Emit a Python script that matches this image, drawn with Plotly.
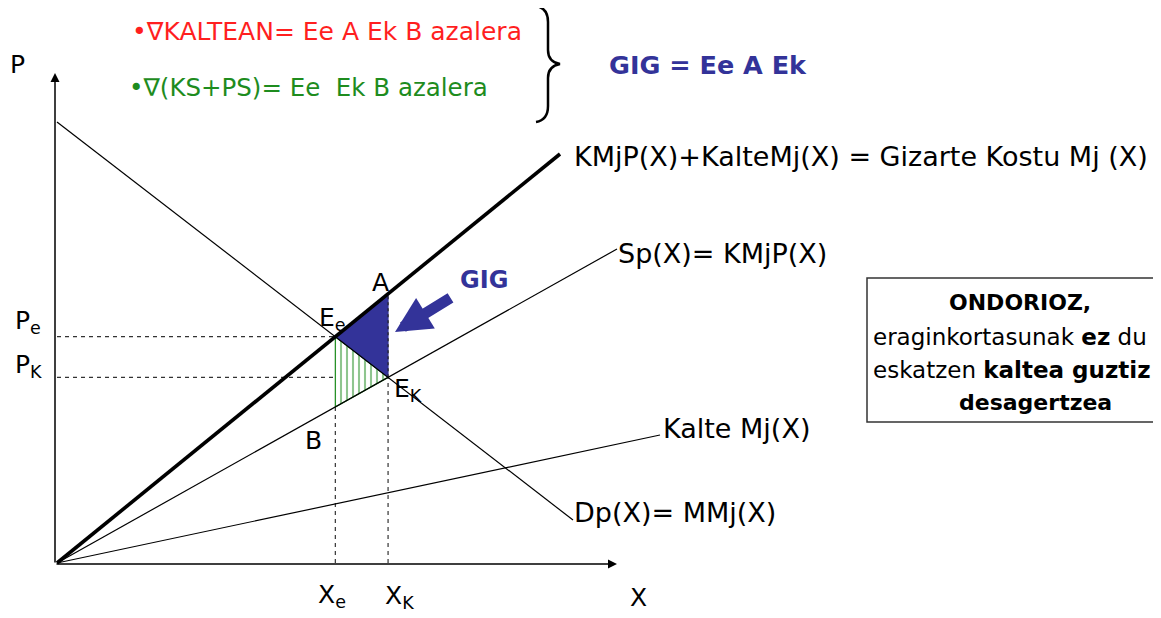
import numpy as np
import plotly.graph_objects as go

# ---------------- data (economic units) ----------------
demand_x = [0.0, 5.16]
demand_p = [4.41, 0.43]
social_x = [0.0, 5.03]
social_p = [0.0, 4.09]
supply_x = [0.0, 5.60]
supply_p = [0.0, 3.14]
kalte_x = [0.0, 6.03]
kalte_p = [0.0, 1.28]

label_social = "KMjP(X)+KalteMj(X) = Gizarte Kostu Mj (X)"
label_supply = "Sp(X)= KMjP(X)"
label_kalte = "Kalte Mj(X)"
label_demand = "Dp(X)= MMj(X)"

WIDE = "DejaVu Sans, sans-serif"
BLUE = "#333399"
RED = "#FF1F1F"
GREEN = "#1E8C1E"

PAGE_W, PAGE_H = 1161, 618
BODY = 8                       # default page margin around the plot
W, H = PAGE_W - BODY, PAGE_H - BODY
OX, OY = 57, 563               # page pixel of the origin
S = 100.0                      # pixels per unit


def px(x, y):
    return ((x - OX) / S, (OY - y) / S)


def line_fn(xs, ps):
    m = (ps[1] - ps[0]) / (xs[1] - xs[0])
    b = ps[0] - m * xs[0]
    return m, b


def intersect(l1, l2):
    m1, b1 = l1
    m2, b2 = l2
    x = (b2 - b1) / (m1 - m2)
    return x, m1 * x + b1


D = line_fn(demand_x, demand_p)
SC = line_fn(social_x, social_p)
SP = line_fn(supply_x, supply_p)

xe, pe = intersect(D, SC)      # Ee
xk, pk = intersect(D, SP)      # Ek
pa = SC[0] * xk + SC[1]        # A
pb = SP[0] * xe + SP[1]        # B

fig = go.Figure()

# dashed guide lines
for xx, yy in [([0, xe], [pe, pe]), ([xe, xe], [0, pb]),
               ([0, xk], [pk, pk]), ([xk, xk], [0, pk])]:
    fig.add_trace(go.Scatter(x=xx, y=yy, mode="lines",
                             line=dict(color="#333333", width=1.2, dash="4px,4px"),
                             hoverinfo="skip", showlegend=False))

# green hatched triangle Ee-Ek-B
fig.add_trace(go.Scatter(x=[xe, xk, xe, xe], y=[pe, pk, pb, pe], mode="lines",
                         fill="toself", fillcolor="white",
                         fillpattern=dict(shape="|", fgcolor=GREEN, bgcolor="white",
                                          size=6, solidity=0.35),
                         line=dict(color=GREEN, width=1.2),
                         hoverinfo="skip", showlegend=False))

# blue triangle Ee-A-Ek
fig.add_trace(go.Scatter(x=[xe, xk, xk, xe], y=[pe, pa, pk, pe], mode="lines",
                         fill="toself", fillcolor=BLUE,
                         line=dict(color=BLUE, width=1),
                         hoverinfo="skip", showlegend=False))
fig.add_trace(go.Scatter(x=[xk, xk], y=[pk, pa], mode="lines",
                         line=dict(color="#222222", width=1.2, dash="dot"),
                         hoverinfo="skip", showlegend=False))

# curves
for xs, ps, w in [(demand_x, demand_p, 1.2), (supply_x, supply_p, 1.2),
                  (kalte_x, kalte_p, 1.2), (social_x, social_p, 3.6)]:
    fig.add_trace(go.Scatter(x=xs, y=ps, mode="lines",
                             line=dict(color="black", width=w),
                             hoverinfo="skip", showlegend=False))

ann = []


def txt(x, y, t, size=24, color="black", xanchor="center", bold=False, family=WIDE):
    tx, ty = px(x, y)
    if bold:
        t = "<b>" + t + "</b>"
    ann.append(dict(x=tx, y=ty, text=t, showarrow=False, xanchor=xanchor,
                    yanchor="middle", font=dict(family=family, size=size, color=color)))


def arrow(head, tail, width, size, color):
    ann.append(dict(x=head[0], y=head[1], ax=tail[0], ay=tail[1], xref="x", yref="y",
                    axref="x", ayref="y", showarrow=True, arrowhead=2, arrowsize=size,
                    arrowwidth=width, arrowcolor=color, text="",
                    font=dict(family=WIDE, size=10)))


# axes arrows
o = px(55, 564)
arrow(px(617, 564), o, 1.5, 1.2, "black")
arrow(px(55, 73), o, 1.5, 1.2, "black")

# GIG arrow
arrow(px(395, 332), px(452, 297), 11, 0.65, BLUE)

# axis / point labels
txt(17, 64, "P", size=25)
txt(638, 597, "X", size=25)
txt(28, 322, "P<sub>e</sub>", size=25)
txt(28, 366, "P<sub>K</sub>", size=25)
txt(332, 596, "X<sub>e</sub>", size=25)
txt(399, 597, "X<sub>K</sub>", size=25)
txt(332, 319, "E<sub>e</sub>", size=25)
txt(380, 282, "A", size=25)
txt(408, 390, "E<sub>K</sub>", size=25)
txt(313, 440, "B", size=25)
txt(484, 280, "GIG", size=24, color=BLUE, bold=True)

# line labels
txt(572, 156, label_social, size=27, xanchor="left")
txt(616, 253, label_supply, size=27, xanchor="left")
txt(661, 428, label_kalte, size=27, xanchor="left")
txt(572, 512, label_demand, size=27, xanchor="left")

# top texts
txt(130, 31, "•∇KALTEAN= Ee A Ek B azalera", size=25, color=RED, xanchor="left")
txt(127, 87, "•∇(KS+PS)= Ee  Ek B azalera", size=24.5, color=GREEN, xanchor="left")
txt(607, 65, "GIG = Ee A Ek", size=25.5, color=BLUE, xanchor="left", bold=True)

# conclusion box text
txt(947, 302, "ONDORIOZ,", size=22, bold=True, xanchor="left")
txt(871, 337, "eraginkortasunak <b>ez</b> du", size=23, xanchor="left")
txt(871, 370, "eskatzen <b>kaltea guztiz</b>", size=23, xanchor="left")
txt(957, 402, "<b>desagertzea</b>", size=22, xanchor="left")

shapes = []
b0 = px(867, 278)
b1 = px(1175, 422)
shapes.append(dict(type="rect", xref="x", yref="y", x0=b0[0], y0=b0[1], x1=b1[0], y1=b1[1],
                   line=dict(color="#333333", width=1.5), fillcolor="rgba(0,0,0,0)"))

# curly brace
pts = [(536, 6), (548, 8), (548, 22), (548, 50), (548, 62), (560, 64),
       (548, 66), (548, 78), (548, 106), (548, 120), (536, 122)]
d = [px(*p) for p in pts]
path = (f"M {d[0][0]},{d[0][1]} Q {d[1][0]},{d[1][1]} {d[2][0]},{d[2][1]} "
        f"L {d[3][0]},{d[3][1]} Q {d[4][0]},{d[4][1]} {d[5][0]},{d[5][1]} "
        f"Q {d[6][0]},{d[6][1]} {d[7][0]},{d[7][1]} L {d[8][0]},{d[8][1]} "
        f"Q {d[9][0]},{d[9][1]} {d[10][0]},{d[10][1]}")
shapes.append(dict(type="path", xref="x", yref="y", path=path,
                   line=dict(color="black", width=2.5)))

xr0, yr1 = px(BODY, BODY)
xr1, yr0 = px(BODY + W, BODY + H)
fig.update_layout(
    width=W, height=H, margin=dict(l=0, r=0, t=0, b=0),
    font=dict(family=WIDE, size=16, color="black"),
    paper_bgcolor="white", plot_bgcolor="white",
    xaxis=dict(range=[xr0, xr1], visible=False, fixedrange=True),
    yaxis=dict(range=[yr0, yr1], visible=False, fixedrange=True),
    annotations=ann, shapes=shapes, showlegend=False,
)

fig.write_html("out.html")
